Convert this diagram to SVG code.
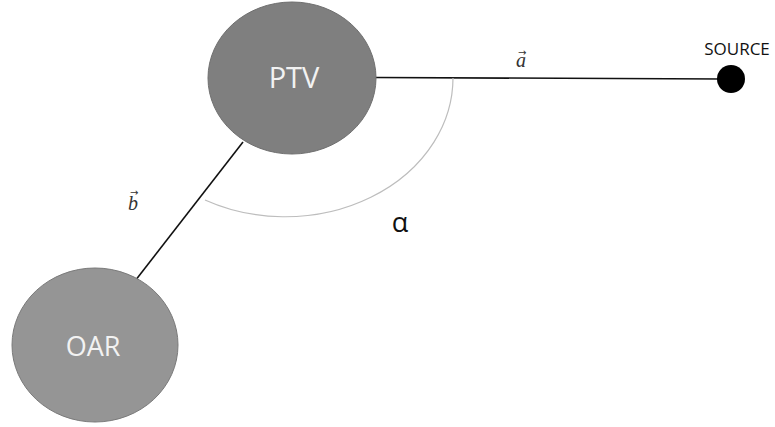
<svg xmlns="http://www.w3.org/2000/svg" width="775" height="427" viewBox="0 0 775 427">
<style>
.node-ptv{fill:#7f7f7f;stroke:#6f6f6f;stroke-width:1}
.node-oar{fill:#959595;stroke:#7a7a7a;stroke-width:1}
.lbl{font-family:"Open Sans","Liberation Sans",sans-serif;fill:#f2f2f2;text-anchor:middle}
.vec{font-family:"Liberation Serif","DejaVu Serif",serif;font-style:italic;font-size:20px;fill:#333}
.arr{font-family:"DejaVu Sans","Liberation Sans",sans-serif;font-style:normal;font-size:10px}
.conn{stroke:#111;stroke-width:1.6;fill:none}
</style>
<rect width="775" height="427" fill="#fff"/>
<g id="connectors">
<line class="conn" x1="376" y1="77.5" x2="722" y2="79"/>
<line class="conn" x1="243" y1="142" x2="135" y2="281"/>
<path d="M453,78 A168,139 0 0,1 205,200" fill="none" stroke="#bdbdbd" stroke-width="1.2"/>
</g>
<g id="ptv">
<ellipse class="node-ptv" cx="292" cy="78" rx="84" ry="76"/>
<text class="lbl" x="294" y="88" font-size="29">PTV</text>
</g>
<g id="oar">
<ellipse class="node-oar" cx="95" cy="345" rx="83" ry="77"/>
<text class="lbl" x="93" y="356" font-size="27">OAR</text>
</g>
<g id="source">
<circle cx="731" cy="79" r="14" fill="#000"/>
<text x="737" y="55" font-family="Open Sans,Liberation Sans,sans-serif" font-size="17" fill="#111" text-anchor="middle">SOURCE</text>
</g>
<g id="labels">
<text class="vec" x="516" y="67">a<tspan class="arr" dx="-8" dy="-11">→</tspan></text>
<text class="vec" x="128" y="210">b<tspan class="arr" dx="-8" dy="-14">→</tspan></text>
<text x="400" y="232" font-family="Open Sans,Liberation Sans,sans-serif" font-size="27" fill="#111" text-anchor="middle">α</text>
</g>
</svg>
